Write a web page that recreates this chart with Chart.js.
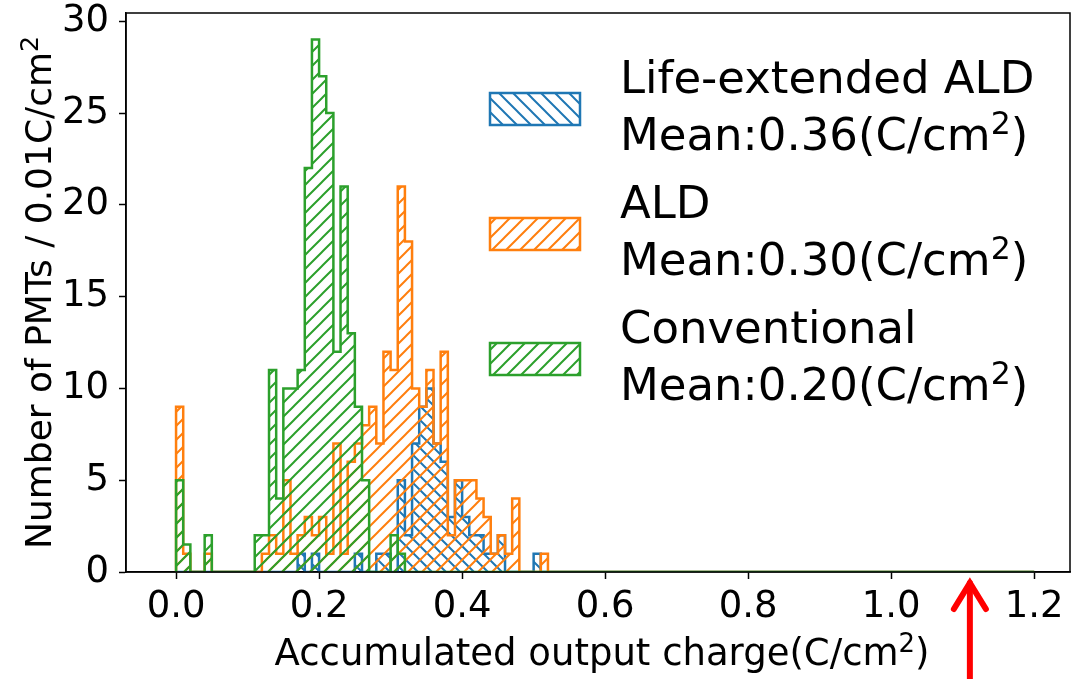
<!DOCTYPE html>
<html>
<head>
<meta charset="utf-8">
<script src="https://cdn.jsdelivr.net/npm/chart.js@4.4.0/dist/chart.umd.min.js"></script>
<style>
  body { margin: 0; background: #fff; }
  #wrap { width: 1073px; height: 679px; }
</style>
</head>
<body>
<div id="wrap"><canvas id="grafico"></canvas></div>
<script>
// histogram bins: 0.01 C/cm2 wide starting at 0, counts read per bin (bins 0..52)
const binStart = 0.0;
const binWidth = 0.01;
const histEnd = 1.2;

const lifeExtended = [0, 0, 0, 0, 0, 0, 0, 0, 0, 0,
  0, 0, 0, 0, 0, 0, 0, 1, 0, 1,
  0, 0, 0, 0, 0, 1, 0, 0, 1, 1,
  0, 5, 2, 7, 9, 10, 7, 6, 3, 5,
  3, 2, 2, 1, 1, 2, 0, 0, 0, 0,
  1, 0, 0];
const ald = [9, 1, 0, 0, 1, 0, 0, 0, 0, 0,
  0, 0, 1, 2, 1, 5, 1, 2, 3, 2,
  3, 1, 7, 1, 6, 7, 8, 9, 7, 12,
  11, 21, 18, 10, 9, 11, 7, 12, 2, 5,
  5, 5, 4, 3, 1, 2, 1, 4, 0, 0,
  0, 1, 0];
const conventional = [5, 1.5, 0, 0, 2, 0, 0, 0, 0, 0,
  0, 2, 2, 11, 4, 10, 10, 11, 22, 29,
  27, 25, 12, 21, 13, 9, 5, 0, 0, 0,
  2, 1, 0, 0, 0, 0, 0, 0, 0, 0,
  0, 0, 0, 0, 0, 0, 0, 0, 0, 0,
  0, 0, 0];

const seriesNames = ['Life-extended ALD', 'ALD', 'Conventional'];
const seriesMeans = ['0.36', '0.30', '0.20'];
const xTicks = [0, 0.2, 0.4, 0.6, 0.8, 1.0, 1.2];
const yTicks = [0, 5, 10, 15, 20, 25, 30];
const arrowAt = 1.11;

const colores = ['#1f77b4', '#ff7f0e', '#2ca02c'];
const hatches = ['\\', '/', '/'];
const FONT = '"DejaVu Sans", sans-serif';

function hatch(color, dir) {
  const s = 14;
  const c = document.createElement('canvas');
  c.width = s; c.height = s;
  const g = c.getContext('2d');
  g.strokeStyle = color;
  g.lineWidth = 2;
  g.beginPath();
  if (dir === '/') {
    g.moveTo(0, s); g.lineTo(s, 0);
    g.moveTo(-s / 2, s / 2); g.lineTo(s / 2, -s / 2);
    g.moveTo(s / 2, s * 1.5); g.lineTo(s * 1.5, s / 2);
  } else {
    g.moveTo(0, 0); g.lineTo(s, s);
    g.moveTo(-s / 2, s / 2); g.lineTo(s / 2, s * 1.5);
    g.moveTo(s / 2, -s / 2); g.lineTo(s * 1.5, s / 2);
  }
  g.stroke();
  return g.createPattern(c, 'repeat');
}

// step outline: one point per left bin edge, closed down to zero and along the baseline
function steps(counts) {
  const pts = [{ x: binStart, y: 0 }];
  counts.forEach((c, i) => pts.push({ x: binStart + i * binWidth, y: c }));
  pts.push({ x: binStart + counts.length * binWidth, y: 0 });
  pts.push({ x: histEnd, y: 0 });
  return pts;
}

const patterns = colores.map((c, i) => hatch(c, hatches[i]));

// text with a raised small "2", like matplotlib mathtext
function drawSup(ctx, x, y, base, sup, tail, size) {
  ctx.font = size + 'px ' + FONT;
  ctx.fillText(base, x, y);
  let w = ctx.measureText(base).width;
  ctx.font = (size * 0.7) + 'px ' + FONT;
  ctx.fillText(sup, x + w, y - size * 0.36);
  w += ctx.measureText(sup).width;
  ctx.font = size + 'px ' + FONT;
  ctx.fillText(tail, x + w, y);
}

function supWidth(ctx, base, sup, tail, size) {
  ctx.font = size + 'px ' + FONT;
  let w = ctx.measureText(base).width + ctx.measureText(tail).width;
  ctx.font = (size * 0.7) + 'px ' + FONT;
  return w + ctx.measureText(sup).width;
}

const extras = {
  id: 'extras',
  afterDraw(chart) {
    const ctx = chart.ctx;
    const a = chart.chartArea;
    ctx.save();
    // spines
    ctx.strokeStyle = '#000';
    ctx.lineWidth = 1.5;
    ctx.strokeRect(a.left, a.top, a.right - a.left, a.bottom - a.top);

    ctx.fillStyle = '#000';
    ctx.textBaseline = 'alphabetic';

    // axis titles
    const xt = ['Accumulated output charge(C/cm', '2', ')'];
    const wx = supWidth(ctx, xt[0], xt[1], xt[2], 37);
    drawSup(ctx, (a.left + a.right) / 2 - wx / 2 + 4, 665, xt[0], xt[1], xt[2], 37);

    const yt = ['Number of PMTs / 0.01C/cm', '2', ''];
    const wy = supWidth(ctx, yt[0], yt[1], yt[2], 36);
    ctx.save();
    ctx.translate(51, (a.top + a.bottom) / 2);
    ctx.rotate(-Math.PI / 2);
    drawSup(ctx, -wy / 2, 0, yt[0], yt[1], yt[2], 36);
    ctx.restore();

    // legend
    for (let i = 0; i < seriesNames.length; i++) {
      const top = 93 + 125 * i;
      ctx.fillStyle = patterns[i];
      ctx.fillRect(490, top, 90, 32);
      ctx.strokeStyle = colores[i];
      ctx.lineWidth = 2.5;
      ctx.strokeRect(490, top, 90, 32);
      ctx.fillStyle = '#000';
      ctx.font = '45px ' + FONT;
      ctx.fillText(seriesNames[i], 620, top);
      drawSup(ctx, 620, top + 57, 'Mean:' + seriesMeans[i] + '(C/cm', '2', ')', 45);
    }

    // red arrow
    const x = chart.scales.x.getPixelForValue(arrowAt);
    ctx.strokeStyle = '#ff0000';
    ctx.lineWidth = 6;
    ctx.lineCap = 'round';
    ctx.lineJoin = 'miter';
    ctx.beginPath();
    ctx.moveTo(x, 690);
    ctx.lineTo(x, 583);
    ctx.stroke();
    ctx.beginPath();
    ctx.moveTo(x - 16, 609);
    ctx.lineTo(x, 583);
    ctx.lineTo(x + 16, 609);
    ctx.stroke();
    ctx.restore();
  }
};

const datasets = [lifeExtended, ald, conventional].map((counts, i) => ({
  label: seriesNames[i],
  data: steps(counts),
  borderColor: colores[i],
  backgroundColor: patterns[i],
  borderWidth: 2.5,
  stepped: 'before',
  fill: 'origin',
  pointRadius: 0,
  order: 3 - i
}));

const tickFont = { family: FONT, size: 37 };

new Chart(document.getElementById('grafico'), {
  type: 'line',
  data: { datasets },
  options: {
    animation: false,
    responsive: true,
    maintainAspectRatio: false,
    layout: { padding: { top: 13, right: 3, left: 0, bottom: 0 } },
    plugins: { legend: { display: false }, tooltip: { enabled: false } },
    scales: {
      x: {
        type: 'linear',
        min: -0.07,
        max: 1.25,
        afterBuildTicks: s => { s.ticks = xTicks.map(v => ({ value: v })); },
        afterFit: s => { s.height = 107; s.paddingLeft = 0; s.paddingRight = 0; },
        ticks: { callback: v => Number(v).toFixed(1), font: tickFont, color: '#000', padding: 6, maxRotation: 0, autoSkip: false },
        grid: { drawOnChartArea: false, drawTicks: true, tickLength: 7, tickWidth: 1.5, tickColor: '#000' },
        border: { display: true, color: '#000', width: 1.5 }
      },
      y: {
        type: 'linear',
        min: 0,
        max: 30.45,
        afterBuildTicks: s => { s.ticks = yTicks.map(v => ({ value: v })); },
        afterFit: s => { s.width = 126; s.paddingTop = 0; s.paddingBottom = 0; },
        ticks: { font: tickFont, color: '#000', padding: 10, autoSkip: false },
        grid: { drawOnChartArea: false, drawTicks: true, tickLength: 7, tickWidth: 1.5, tickColor: '#000' },
        border: { display: true, color: '#000', width: 1.5 }
      }
    }
  },
  plugins: [extras]
});
</script>
</body>
</html>
